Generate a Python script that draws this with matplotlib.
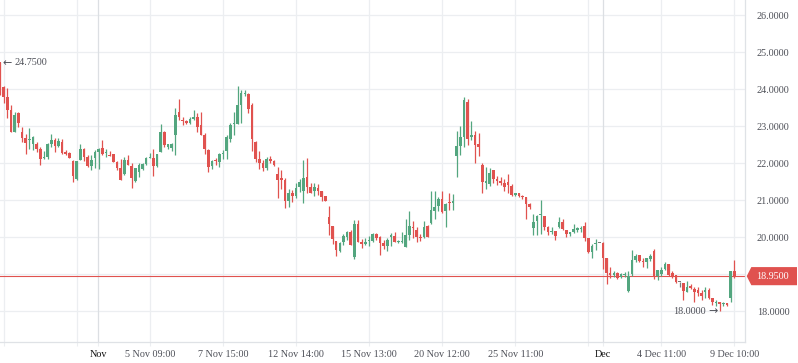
import numpy as np
import matplotlib
matplotlib.use('Agg')
from matplotlib import pyplot as plt
from matplotlib.patches import Polygon
import matplotlib.transforms as mtransforms

plt.rcParams['font.family'] = ['Liberation Serif', 'DejaVu Sans']

# candle data
opens = [24.75, 24.05, 23.80, 23.44, 22.85, 23.35, 22.84, 22.69, 22.62, 22.51,
         22.51, 22.39, 22.13, 22.18, 22.51, 22.63, 22.48, 22.57, 22.31, 22.27,
         22.06, 21.58, 22.09, 22.39, 22.18, 21.94, 22.13, 22.31, 22.42, 22.27,
         22.23, 22.24, 22.04, 21.86, 21.70, 22.09, 21.94, 21.52, 21.76, 21.85,
         21.97, 22.15, 22.15, 21.94, 22.31, 22.84, 22.45, 22.42, 22.77, 23.40,
         23.17, 23.13, 23.10, 23.21, 23.24, 23.03, 22.76, 22.36, 21.93, 22.09,
         22.04, 22.25, 22.34, 22.65, 23.05, 23.05, 23.58, 23.87, 23.87, 23.58,
         22.58, 22.12, 22.02, 21.86, 22.12, 22.07, 21.71, 21.59, 21.55, 20.99,
         21.19, 21.12, 21.37, 21.26, 21.62, 21.35, 21.26, 21.32, 21.26, 21.12,
         20.56, 20.30, 19.89, 19.64, 19.86, 20.02, 20.15, 19.46, 20.36, 19.86,
         19.82, 19.89, 19.91, 20.09, 20.02, 19.84, 19.77, 20.00, 20.03, 19.87,
         19.88, 19.73, 20.06, 20.27, 20.20, 20.02, 20.00, 20.31, 20.38, 20.72,
         20.85, 21.03, 20.72, 20.94, 20.94, 22.20, 22.47, 22.72, 23.67, 22.70,
         22.76, 22.52, 21.95, 21.48, 21.44, 21.82, 21.57, 21.50, 21.48, 21.50,
         21.39, 21.14, 21.19, 21.10, 21.08, 20.90, 20.24, 20.45, 20.60, 20.58,
         20.29, 20.14, 20.18, 20.29, 20.40, 20.20, 20.08, 20.13, 20.21, 20.22,
         20.31, 19.97, 19.59, 19.81, 19.84, 19.84, 19.43, 19.03, 18.98, 19.03,
         18.94, 18.97, 18.55, 19.00, 19.39, 19.52, 19.36, 19.32, 19.41, 19.63,
         18.96, 19.00, 19.14, 19.27, 19.03, 18.98, 18.78, 18.76, 18.53, 18.69,
         18.60, 18.58, 18.49, 18.53, 18.58, 18.37, 18.22, 18.24, 18.20, 18.22,
         18.37, 19.09]
highs = [24.75, 24.10, 24.03, 23.57, 23.40, 23.40, 22.97, 22.80, 22.96, 22.73,
         22.57, 22.45, 22.33, 22.54, 22.79, 22.68, 22.68, 22.66, 22.36, 22.30,
         22.09, 22.06, 22.51, 22.41, 22.22, 22.22, 22.36, 22.42, 22.63, 22.40,
         22.33, 22.26, 22.06, 22.12, 22.18, 22.22, 22.00, 21.88, 22.00, 22.00,
         22.18, 22.27, 22.40, 22.24, 23.06, 22.86, 22.53, 22.54, 23.50, 23.74,
         23.26, 23.17, 23.24, 23.44, 23.35, 23.38, 22.83, 22.40, 22.09, 22.13,
         22.27, 22.36, 22.76, 23.10, 23.39, 24.09, 23.98, 23.98, 23.89, 23.62,
         22.60, 22.34, 22.09, 22.16, 22.20, 22.09, 21.89, 21.82, 21.59, 21.30,
         21.28, 21.46, 21.57, 22.10, 22.13, 21.46, 21.46, 21.44, 21.26, 21.12,
         20.85, 20.30, 19.89, 19.86, 20.09, 20.18, 20.21, 20.48, 20.47, 19.95,
         19.97, 20.03, 20.11, 20.11, 20.04, 19.94, 19.97, 20.11, 20.13, 19.94,
         20.13, 20.49, 20.72, 20.45, 20.27, 20.09, 20.45, 20.33, 21.26, 21.26,
         21.08, 21.26, 20.94, 21.19, 21.17, 22.88, 23.01, 23.80, 23.73, 23.13,
         22.86, 22.83, 22.00, 21.91, 21.87, 21.82, 21.66, 21.62, 21.57, 21.71,
         21.44, 21.21, 21.21, 21.14, 21.08, 20.94, 20.63, 20.60, 21.01, 20.58,
         20.31, 20.29, 20.18, 20.56, 20.49, 20.20, 20.15, 20.35, 20.29, 20.31,
         20.42, 19.97, 19.81, 19.95, 19.84, 19.86, 19.43, 19.21, 19.09, 19.05,
         19.03, 19.07, 19.09, 19.66, 19.54, 19.52, 19.43, 19.45, 19.54, 19.68,
         19.12, 19.20, 19.32, 19.27, 19.09, 18.98, 18.80, 18.76, 18.82, 18.73,
         18.66, 18.66, 18.58, 18.66, 18.64, 18.37, 18.31, 18.26, 18.24, 18.22,
         19.09, 19.39]
lows = [23.85, 23.62, 23.23, 22.85, 22.85, 22.97, 22.57, 22.24, 22.39, 22.36,
        22.30, 21.95, 22.12, 22.12, 22.45, 22.31, 22.45, 22.24, 22.22, 22.13,
        21.50, 21.55, 22.09, 22.06, 21.91, 21.82, 21.86, 21.85, 22.22, 22.18,
        22.20, 22.04, 21.82, 21.55, 21.68, 21.95, 21.32, 21.50, 21.62, 21.82,
        21.95, 22.13, 21.67, 21.91, 22.31, 22.45, 22.39, 22.33, 22.22, 23.17,
        23.04, 23.05, 23.05, 23.17, 22.85, 22.76, 22.25, 21.77, 21.84, 21.95,
        21.91, 22.11, 22.11, 22.58, 22.76, 23.05, 23.08, 23.82, 23.35, 22.34,
        22.04, 21.84, 21.80, 21.82, 22.02, 21.93, 21.05, 21.30, 20.78, 20.83,
        20.96, 21.05, 21.23, 20.94, 21.21, 21.19, 21.12, 21.14, 20.99, 20.99,
        20.06, 19.82, 19.49, 19.61, 19.79, 19.94, 19.79, 19.40, 19.86, 19.70,
        19.79, 19.76, 19.88, 19.93, 19.52, 19.68, 19.64, 19.77, 19.86, 19.84,
        19.84, 19.73, 19.93, 19.97, 19.86, 19.91, 19.97, 20.02, 20.36, 20.49,
        20.72, 20.65, 20.27, 20.74, 20.74, 21.62, 22.22, 22.43, 22.50, 22.63,
        22.02, 22.20, 21.19, 21.30, 21.39, 21.46, 21.41, 21.41, 21.26, 21.19,
        21.12, 21.12, 21.08, 21.03, 20.49, 20.76, 20.06, 20.06, 20.09, 20.20,
        20.06, 20.09, 19.93, 20.24, 20.20, 20.02, 20.04, 20.11, 20.15, 20.13,
        19.90, 19.57, 19.43, 19.66, 19.84, 19.14, 18.73, 18.91, 18.94, 18.87,
        18.89, 18.94, 18.51, 18.96, 19.32, 19.34, 19.21, 19.16, 19.36, 18.87,
        18.85, 18.96, 19.12, 18.96, 18.91, 18.76, 18.66, 18.30, 18.51, 18.60,
        18.26, 18.40, 18.31, 18.37, 18.33, 18.17, 18.15, 18.00, 18.15, 18.15,
        18.24, 18.91]
closes = [24.00, 23.78, 23.44, 22.85, 23.30, 23.08, 22.69, 22.56, 22.65, 22.72,
          22.39, 22.12, 22.15, 22.51, 22.63, 22.48, 22.60, 22.27, 22.25, 22.15,
          21.67, 22.06, 22.40, 22.18, 21.94, 22.09, 22.31, 22.39, 22.24, 22.30,
          22.20, 22.04, 21.86, 21.55, 22.09, 21.95, 21.59, 21.86, 21.95, 21.97,
          22.15, 22.18, 21.94, 22.24, 22.84, 22.50, 22.51, 22.51, 23.31, 23.26,
          23.13, 23.09, 23.20, 23.23, 22.99, 22.76, 22.39, 21.91, 22.06, 22.06,
          22.25, 22.29, 22.70, 23.03, 23.08, 23.58, 23.89, 23.89, 23.46, 22.65,
          22.12, 22.00, 21.86, 22.12, 22.07, 21.95, 21.55, 21.55, 20.99, 21.19,
          21.12, 21.32, 21.50, 21.59, 21.37, 21.21, 21.35, 21.26, 21.10, 20.99,
          20.36, 19.95, 19.66, 19.84, 20.03, 20.13, 19.79, 20.36, 19.86, 19.82,
          19.88, 19.91, 20.09, 19.97, 19.85, 19.77, 19.94, 20.06, 19.88, 19.89,
          19.90, 20.06, 20.31, 20.24, 20.00, 19.97, 20.27, 20.02, 20.74, 20.83,
          21.03, 20.69, 20.90, 20.92, 20.99, 22.47, 22.72, 23.71, 22.65, 22.76,
          22.50, 22.45, 21.50, 21.50, 21.73, 21.57, 21.53, 21.48, 21.37, 21.41,
          21.14, 21.19, 21.12, 21.08, 20.90, 20.81, 20.40, 20.58, 20.62, 20.27,
          20.15, 20.16, 20.04, 20.40, 20.22, 20.08, 20.13, 20.22, 20.23, 20.23,
          19.97, 19.59, 19.77, 19.84, 19.84, 19.43, 19.03, 18.98, 19.03, 18.89,
          19.00, 18.99, 18.96, 19.39, 19.50, 19.36, 19.32, 19.43, 19.50, 18.94,
          19.12, 19.12, 19.27, 18.98, 18.94, 18.80, 18.78, 18.55, 18.67, 18.64,
          18.51, 18.49, 18.40, 18.58, 18.35, 18.24, 18.23, 18.19, 18.21, 18.17,
          19.09, 18.95]

# time axis: candle index of each grid line and its label
grid_idx = [1, 21, 41, 61, 81, 101, 121, 141, 161, 181, 201]
grid_lbl = ['', '', '5 Nov 09:00', '7 Nov 15:00', '12 Nov 14:00', '15 Nov 13:00',
            '20 Nov 12:00', '25 Nov 11:00', '', '4 Dec 11:00', '9 Dec 10:00']
month_idx = [26.9, 164.9]
month_lbl = ['Nov', 'Dec']

price_ticks = [18, 19, 20, 21, 22, 23, 24, 25, 26]

up = '#53a67f'
down = '#e0524f'
flat = '#7a7a7a'
grid_c = '#eceef1'
txt_c = '#4e5058'

fig = plt.figure(figsize=(7.98, 3.63), dpi=100)
ax = fig.add_axes([0, 21/363, 745/798, 342/363])

o = np.array(opens); h = np.array(highs); l = np.array(lows); c = np.array(closes)
x = np.arange(len(o))
cols = np.where(c > o, up, np.where(c < o, down, flat))

ax.vlines(x, l, h, colors=cols, lw=0.9, zorder=3)
body_lo = np.minimum(o, c)
body_h = np.maximum(np.abs(c - o), 0.03)
ax.bar(x, body_h, bottom=body_lo, width=0.72, color=cols, linewidth=0, zorder=4)

# grid
for p in price_ticks:
    ax.axhline(p, color=grid_c, lw=0.9, zorder=0)
for g in grid_idx:
    ax.axvline(g, color=grid_c, lw=0.9, zorder=0)
for m in month_idx:
    ax.axvline(m, color='#dcdfe3', lw=0.9, zorder=0)

# last price line
ax.axhline(closes[-1], color=down, lw=0.8, zorder=2)

ax.set_xlim(-0.01, 203.9)
ax.set_ylim(17.17, 26.414)

# x ticks
all_idx = grid_idx + month_idx
all_lbl = grid_lbl + month_lbl
ax.set_xticks(all_idx)
ax.set_xticklabels(all_lbl)
ax.tick_params(axis='x', length=3, color=grid_c, pad=3, labelsize=7.3, labelcolor=txt_c)
for t in ax.get_xticklabels():
    if t.get_text() in month_lbl:
        t.set_color('#111111')

# y ticks on right
ax.yaxis.tick_right()
ax.set_yticks(price_ticks)
ax.set_yticklabels(['%.4f' % p for p in price_ticks])
ax.tick_params(axis='y', length=0, pad=8.5, labelsize=7.3, labelcolor=txt_c)

for s in ['top', 'left']:
    ax.spines[s].set_visible(False)
for s in ['bottom', 'right']:
    ax.spines[s].set_color('#dfe2e6')
    ax.spines[s].set_linewidth(0.9)

# high / low markers
hi_i = int(np.argmax(h))
lo_i = int(np.argmin(l))
ax.text(hi_i + 0.7, h[hi_i] - 0.03, '\u2190', fontsize=8, color=txt_c, family='DejaVu Sans',
        ha='left', va='center', zorder=5)
ax.text(hi_i + 4.0, h[hi_i] - 0.03, '%.4f' % h[hi_i], fontsize=7.3, color=txt_c,
        ha='left', va='center', zorder=5)
ax.text(lo_i - 0.5, l[lo_i], '\u2192', fontsize=8, color=txt_c, family='DejaVu Sans',
        ha='right', va='center', zorder=5)
ax.text(lo_i - 3.8, l[lo_i], '%.4f' % l[lo_i], fontsize=7.3, color=txt_c,
        ha='right', va='center', zorder=5)

# last price box on the right axis
tr = mtransforms.blended_transform_factory(ax.transAxes, ax.transData)
last = closes[-1]
hh = 0.245
box = Polygon([(1.0023, last), (1.0085, last + hh), (1.0698, last + hh),
               (1.0698, last - hh), (1.0085, last - hh)], closed=True,
              transform=tr, facecolor=down, edgecolor='none', clip_on=False, zorder=10)
ax.add_patch(box)
ax.text(1.0155, last, '%.4f' % last, transform=tr, color='white', fontsize=7.3,
        ha='left', va='center', clip_on=False, zorder=11)

fig.savefig('out.png', dpi=100)
